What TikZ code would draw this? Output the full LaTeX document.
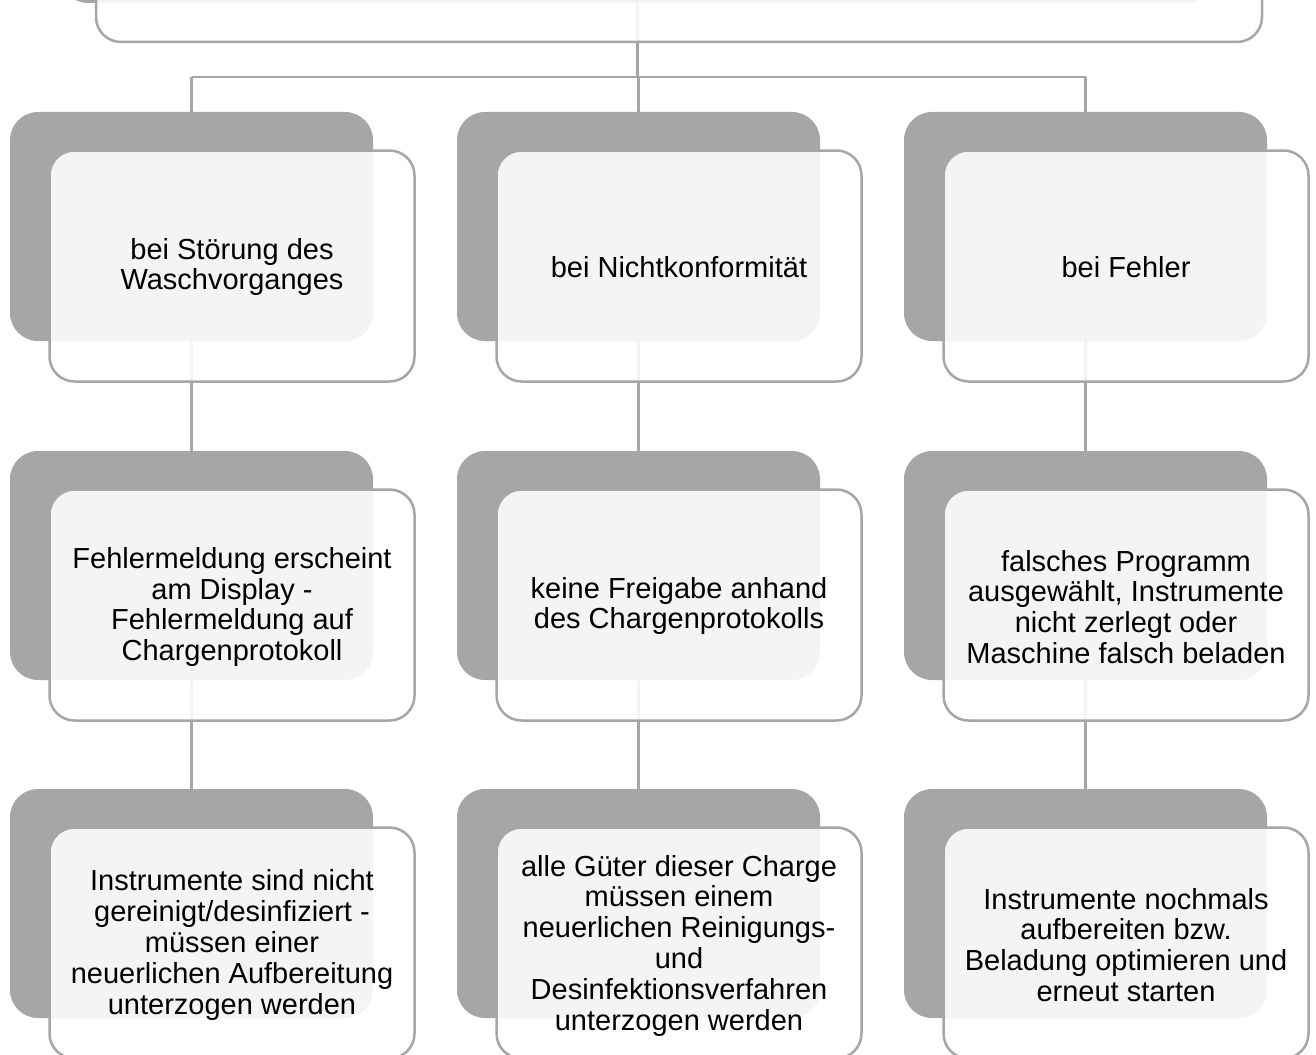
\documentclass[tikz,border=0pt]{standalone}
\usepackage{fontspec}
\setmainfont{Liberation Sans}
\usetikzlibrary{calc}
\definecolor{darkbox}{HTML}{A6A6A6}
\definecolor{linegray}{HTML}{A6A6A6}
\tikzset{
  darkbox/.style={draw=none, fill=darkbox, rounded corners=28pt, minimum width=363pt, minimum height=229pt, inner sep=0pt, outer sep=0pt},
  whitebox/.style={draw=linegray, line width=2.5pt, fill=white, fill opacity=0.88, draw opacity=1, rounded corners=25pt, minimum width=365pt, minimum height=231pt, inner sep=0pt, outer sep=0pt},
  boxtext/.style={inner sep=0pt, align=center, text=black, font=\fontsize{29}{30.8}\selectfont},
  conn/.style={draw=linegray, line width=2.2pt}
}
\begin{document}
\begin{tikzpicture}[x=1pt,y=-1pt]
\useasboundingbox (0,0) rectangle (1316,1054);
\clip (0,0) rectangle (1316,1054);
% top box
\node[darkbox, minimum width=1155pt, minimum height=230pt] (topdark) at (637.5,-112) {};
% positions of the dark boxes
\foreach \c/\x in {1/191.5,2/638.5,3/1085.5}{
  \foreach \r/\y in {1/226.5,2/565.5,3/903.5}{
    \coordinate (p\r\c) at (\x,\y);
  }
}
\coordinate (bar) at (0,77);
% connectors
\draw[conn] (topdark.south) -- (topdark.south |- bar);
\draw[conn] (p11 |- bar) -- (p13 |- bar);
\foreach \c in {1,2,3}{
  \draw[conn] (p1\c |- bar) -- (p3\c);
}
\foreach \r in {1,2,3}{
  \foreach \c in {1,2,3}{
    \node[darkbox] (d\r\c) at (p\r\c) {};
  }
}
\node[whitebox, minimum width=1166pt, minimum height=230pt] (top) at (679,-73) {};
% white boxes
\foreach \r in {1,2,3}{
  \foreach \c in {1,2,3}{
    \node[whitebox] (w\r\c) at ($(p\r\c)+(40.5,39.5)$) {};
  }
}
% texts
\node[boxtext] (t11) at ($(w11.center)+(0,1)$) {bei Störung des\\Waschvorganges};
\node[boxtext] (t12) at ($(w12.center)+(0,1)$) {bei Nichtkonformität};
\node[boxtext] (t13) at ($(w13.center)+(0,1)$) {bei Fehler};
\node[boxtext] (t21) at ($(w21.center)+(0,2)$) {Fehlermeldung erscheint\\am Display -\\Fehlermeldung auf\\Chargenprotokoll};
\node[boxtext] (t22) at ($(w22.center)+(0,1)$) {keine Freigabe anhand\\des Chargenprotokolls};
\node[boxtext] (t23) at ($(w23.center)+(0,2)$) {falsches Programm\\ausgewählt, Instrumente\\nicht zerlegt oder\\Maschine falsch beladen};
\node[boxtext] (t31) at ($(w31.center)+(0,2)$) {Instrumente sind nicht\\gereinigt/desinfiziert -\\müssen einer\\neuerlichen Aufbereitung\\unterzogen werden};
\node[boxtext] (t32) at ($(w32.center)+(0,2.5)$) {alle Güter dieser Charge\\müssen einem\\neuerlichen Reinigungs-\\und\\Desinfektionsverfahren\\unterzogen werden};
\node[boxtext] (t33) at ($(w33.center)+(0,2)$) {Instrumente nochmals\\aufbereiten bzw.\\Beladung optimieren und\\erneut starten};
\end{tikzpicture}
\end{document}
